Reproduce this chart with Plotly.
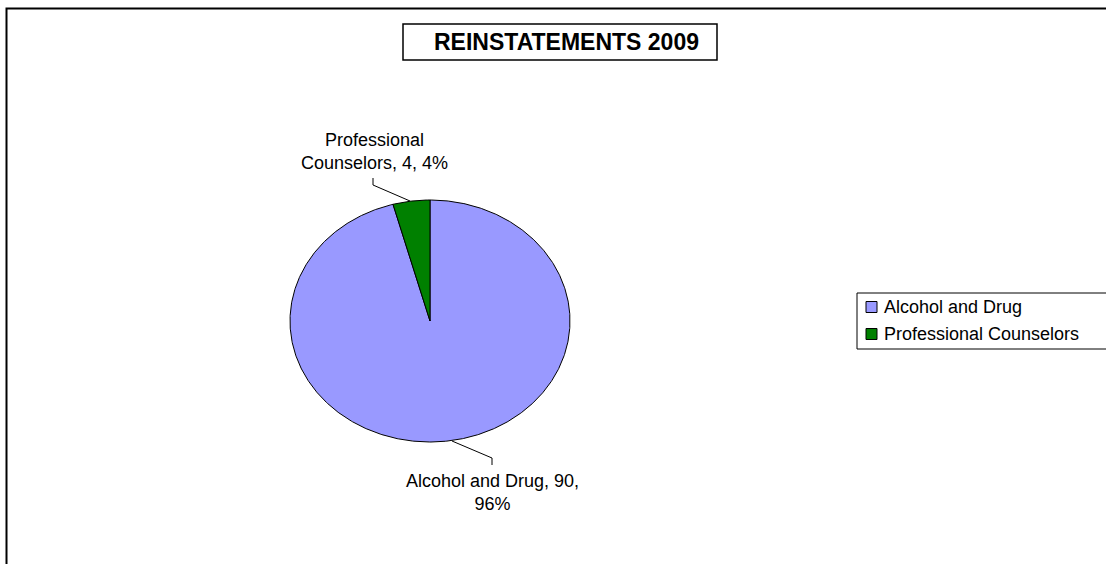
import math
import plotly.graph_objects as go

labels = ["Alcohol and Drug", "Professional Counselors"]
values = [90, 4]
colors = ["#9999FF", "#008000"]
title_text = "REINSTATEMENTS 2009"

W, H = 1106, 564
CX, CY, RX, RY = 430, 321, 140, 121
font = "Arial, Liberation Sans, sans-serif"

fig = go.Figure()

total = sum(values)
start = 0.0
info = []
for lab, val, col in zip(labels, values, colors):
    span = val / total * 360.0
    n = max(6, int(span * 2))
    xs, ys = [CX], [CY]
    for i in range(n + 1):
        a = math.radians(start + span * i / n)
        xs.append(CX + RX * math.sin(a))
        ys.append(CY - RY * math.cos(a))
    xs.append(CX)
    ys.append(CY)
    fig.add_trace(go.Scatter(x=xs, y=ys, mode="lines", fill="toself",
                             fillcolor=col, line=dict(color="black", width=1),
                             hoverinfo="skip", showlegend=False, name=lab))
    info.append((lab, val, round(val / total * 100)))
    start += span

# data labels
lab0, v0, p0 = info[0]
lab1, v1, p1 = info[1]
fig.add_annotation(x=492, y=492, text=f"{lab0}, {v0},<br>{p0}%", showarrow=False,
                   font=dict(family=font, size=18, color="black"), align="center")
fig.add_annotation(x=374, y=151, text=f"Professional<br>Counselors, {v1}, {p1}%", showarrow=False,
                   font=dict(family=font, size=18, color="black"), align="center")

# leader lines
fig.add_shape(type="path", path="M 373 178 L 373 185 L 410 201",
              line=dict(color="black", width=1))
fig.add_shape(type="path", path="M 452 441 L 492 458 L 492 465",
              line=dict(color="black", width=1))

# title box
fig.add_shape(type="rect", x0=403, x1=717, y0=24, y1=60,
              line=dict(color="black", width=1.5), fillcolor="white", layer="below")
fig.add_annotation(x=566, y=42, text=f"<b>{title_text}</b>", showarrow=False,
                   font=dict(family=font, size=23, color="black"))

# legend (manual, Excel style)
LX, LY, ROW = 857, 293, 27
fig.add_shape(type="rect", x0=LX, x1=W + 10, y0=LY, y1=LY + 2 * ROW + 2,
              line=dict(color="black", width=1), fillcolor="white", layer="below")
for i, (lab, col) in enumerate(zip(labels, colors)):
    yc = LY + 14 + i * ROW
    fig.add_shape(type="rect", x0=LX + 9, x1=LX + 20, y0=yc - 5.5, y1=yc + 5.5,
                  line=dict(color="black", width=1), fillcolor=col)
    fig.add_annotation(x=LX + 25, y=yc, text=lab, showarrow=False, xanchor="left",
                       font=dict(family=font, size=18, color="black"))

# outer border
fig.add_shape(type="rect", x0=6.5, x1=W + 10, y0=8.5, y1=H + 10,
              line=dict(color="black", width=2), layer="below")

fig.update_layout(
    width=W, height=H, autosize=False,
    margin=dict(l=0, r=0, t=0, b=0),
    paper_bgcolor="white", plot_bgcolor="white",
    xaxis=dict(range=[0, W], visible=False, fixedrange=True),
    yaxis=dict(range=[H, 0], visible=False, fixedrange=True),
    showlegend=False,
)

fig.write_html("out.html", config={"displayModeBar": False},
               post_script="document.body.style.margin='0px';document.body.style.overflow='hidden';")
